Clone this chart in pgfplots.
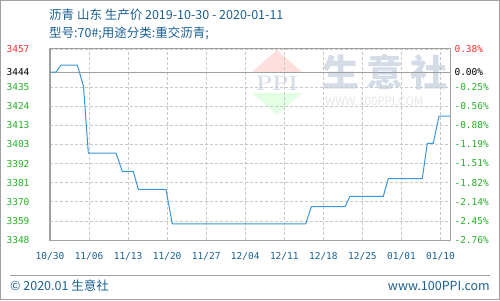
\documentclass[border=0pt]{standalone}
\usepackage{fontspec}
\usepackage{pgfplots}
\pgfplotsset{compat=1.18}
\newfontfamily\cjk{Noto Sans CJK SC}
\newfontfamily\mono{DejaVu Sans Mono}
\definecolor{ttl}{RGB}{26,95,145}
\definecolor{lineblue}{RGB}{58,150,216}
\definecolor{lgreen}{RGB}{40,175,40}
\definecolor{lred}{RGB}{240,50,50}
\definecolor{gridc}{RGB}{200,200,200}
\definecolor{framec}{RGB}{160,160,160}
\definecolor{wmark}{RGB}{212,220,232}
\begin{document}
\begin{tikzpicture}
\useasboundingbox (0pt,0pt) rectangle (500pt,300pt);
\draw[framec,line width=1.2pt] (0.6pt,0.6pt) rectangle (499.4pt,299.4pt);
% title
\node[anchor=west,text=ttl,inner sep=0] at (49pt,285pt) {\cjk\fontsize{12.5}{14}\selectfont 沥青 山东 生产价 2019-10-30 - 2020-01-11};
\node[anchor=west,text=ttl,inner sep=0] at (49pt,267pt) {\cjk\fontsize{12.5}{14}\selectfont 型号:70\#;用途分类:重交沥青;};
% watermark
\fill[red!13] (277pt,250pt) -- (302pt,228pt) -- (252pt,228pt) -- cycle;
\fill[green!11] (277pt,185pt) -- (302pt,207pt) -- (252pt,207pt) -- cycle;
\node[text=wmark,inner sep=0] at (277pt,217pt) {\fontsize{21}{22}\selectfont\bfseries PPI};
\node[anchor=west,text=wmark,inner sep=0] at (322pt,228pt) {\cjk\bfseries\fontsize{37}{38}\selectfont 生\hspace{7pt}意\hspace{7pt}社};
\node[anchor=west,text=black!10,inner sep=0] at (325pt,199pt) {\cjk\fontsize{11.5}{12}\selectfont WWW.100PPI.COM};
\begin{axis}[
  at={(50pt,60pt)}, anchor=south west,
  scale only axis, width=400pt, height=191pt,
  xmin=0, xmax=71.7, ymin=3348.6, ymax=3457.1,
  axis line style={framec, line width=1pt},
  xtick={0,7,14,21,28,35,42,49,56,63,70},
  xticklabels={10/30,11/06,11/13,11/20,11/27,12/04,12/11,12/18,12/25,01/01,01/10},
  ytick={3348.6,3359.45,3370.3,3381.15,3392,3402.85,3413.7,3424.55,3435.4,3444,3457.1},
  yticklabels={\textcolor{lgreen}{3348},\textcolor{lgreen}{3359},\textcolor{lgreen}{3370},\textcolor{lgreen}{3381},\textcolor{lgreen}{3392},\textcolor{lgreen}{3403},\textcolor{lgreen}{3413},\textcolor{lgreen}{3424},\textcolor{lgreen}{3435},\textcolor{black}{3444},\textcolor{lred}{3457}},
  major tick length=0pt,
  xmajorgrids, ymajorgrids,
  grid style={gridc, line width=0.8pt, dash pattern=on 3pt off 2pt},
  xticklabel style={font=\mono\fontsize{9.5}{10}\selectfont, text=ttl, yshift=-9pt},
  yticklabel style={font=\mono\fontsize{9.5}{10}\selectfont, anchor=east, xshift=-17pt},
  clip=false,
]
\addplot[framec, line width=1pt, forget plot] coordinates {(0,3444) (71.7,3444)};
\addplot[lineblue, line width=1pt, mark=none] coordinates {
(0,3444) (1.08,3444) (1.97,3448) (4.9,3448) (6.0,3436) (6.87,3398) (11.83,3398)
(12.96,3387.6) (14.93,3387.6) (15.83,3377.4) (20.79,3377.4) (21.92,3357.7)
(45.83,3357.7) (46.84,3367.5) (52.88,3367.5) (53.77,3373.4) (59.74,3373.4)
(60.64,3383.4) (66.73,3383.4) (67.63,3403.5) (68.7,3403.5) (69.73,3419) (71.7,3419)};
\end{axis}
\begin{axis}[
  at={(50pt,60pt)}, anchor=south west,
  scale only axis, width=400pt, height=191pt,
  xmin=0, xmax=71.7, ymin=3348.6, ymax=3457.1,
  axis x line=none, axis y line*=right,
  axis line style={framec, line width=1pt},
  major tick length=0pt,
  ytick={3348.6,3359.45,3370.3,3381.15,3392,3402.85,3413.7,3424.55,3435.4,3444,3457.1},
  yticklabels={\textcolor{lgreen}{-2.76\%},\textcolor{lgreen}{-2.45\%},\textcolor{lgreen}{-2.14\%},\textcolor{lgreen}{-1.82\%},\textcolor{lgreen}{-1.51\%},\textcolor{lgreen}{-1.19\%},\textcolor{lgreen}{-0.88\%},\textcolor{lgreen}{-0.56\%},\textcolor{lgreen}{-0.25\%},\textcolor{black}{0.00\%},\textcolor{lred}{0.38\%}},
  yticklabel style={font=\mono\fontsize{9.5}{10}\selectfont, anchor=west, xshift=1pt},
]
\addplot[draw=none, forget plot] coordinates {(0,3444)};
\end{axis}
% footer
\draw[framec, line width=1pt] (10pt,25pt) -- (490pt,25pt);
\node[anchor=west,text=ttl,inner sep=0] at (10pt,14pt) {\cjk\fontsize{12.5}{14}\selectfont © 2020.01 生意社};
\node[anchor=east,text=ttl,inner sep=0] at (490pt,14pt) {\cjk\fontsize{12.5}{14}\selectfont www.100PPI.com};
\end{tikzpicture}
\end{document}
